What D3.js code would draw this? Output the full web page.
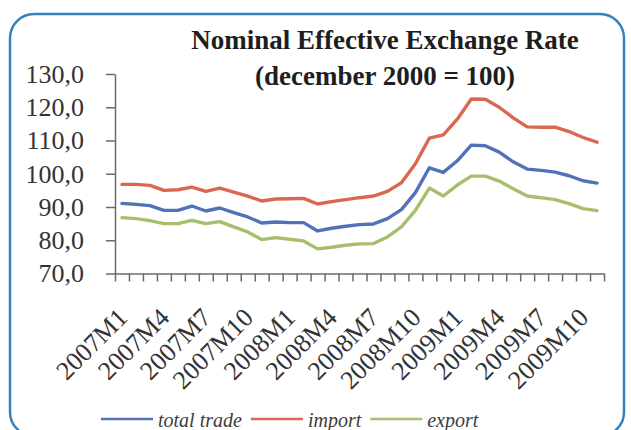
<!DOCTYPE html>
<html><head><meta charset="utf-8">
<script src="https://cdn.jsdelivr.net/npm/d3@7"></script>
<style>html,body{margin:0;padding:0;background:#fff;} svg{display:block}</style>
</head><body><svg id="c" width="631" height="430"></svg>
<script>
const categories = ["2007M1","2007M2","2007M3","2007M4","2007M5","2007M6","2007M7","2007M8","2007M9","2007M10","2007M11","2007M12",
"2008M1","2008M2","2008M3","2008M4","2008M5","2008M6","2008M7","2008M8","2008M9","2008M10","2008M11","2008M12",
"2009M1","2009M2","2009M3","2009M4","2009M5","2009M6","2009M7","2009M8","2009M9","2009M10","2009M11"];
const shownLabels = ["2007M1","2007M4","2007M7","2007M10","2008M1","2008M4","2008M7","2008M10","2009M1","2009M4","2009M7","2009M10"];
const totalTrade = [91.1,90.8,90.4,89.0,89.0,90.3,88.8,89.7,88.3,87.0,85.2,85.5,85.3,85.3,82.8,83.6,84.2,84.7,84.9,86.5,89.2,94.3,101.8,100.4,103.9,108.6,108.4,106.5,103.6,101.4,101.0,100.5,99.4,97.9,97.2];
const importIdx = [96.8,96.8,96.5,95.0,95.2,96.0,94.7,95.7,94.5,93.3,91.8,92.4,92.5,92.6,90.9,91.6,92.2,92.8,93.3,94.7,97.3,103.0,110.7,111.7,116.4,122.5,122.4,120.0,116.8,114.1,114.0,114.0,112.7,110.9,109.5];
const exportIdx = [86.8,86.5,85.9,85.0,85.0,86.0,85.0,85.6,84.0,82.5,80.2,80.8,80.3,79.8,77.4,77.9,78.5,78.9,79.0,81.0,84.0,89.0,95.7,93.3,96.6,99.3,99.3,97.8,95.5,93.3,92.8,92.2,91.0,89.5,88.9];
const yTicks = [70,80,90,100,110,120,130];
const seriesNames = ["total trade","import","export"];
const seriesValues = [totalTrade, importIdx, exportIdx];
const seriesColors = ["#5272b8","#da6750","#a7bf6c"];
const titleLines = ["Nominal Effective Exchange Rate","(december 2000 = 100)"];

const svg = d3.select("#c");
const serif = "'Liberation Serif','Times New Roman',serif";

// frame
svg.append("rect").attr("x",10).attr("y",14).attr("width",614).attr("height",422)
  .attr("rx",24).attr("ry",24).attr("fill","#fff").attr("stroke","#3282bf").attr("stroke-width",2.5);

// title
svg.selectAll("text.title").data(titleLines).join("text").attr("class","title")
  .attr("x",385).attr("y",(d,i)=> i===0 ? 48.5 : 84.5)
  .attr("text-anchor","middle").attr("font-family",serif).attr("font-weight","bold")
  .attr("font-size",27).attr("fill","#1e1e1e").text(d=>d);

const x = d3.scaleBand().domain(categories).range([115,604]).padding(0);
const bw = x.bandwidth();
const xb = d3.scaleLinear().domain([0,categories.length]).range([115,604]);
const y = d3.scaleLinear().domain([70,130]).range([273.5,74]);

const fmt = v => d3.format(".1f")(v).replace(".",",");

// y axis
const ya = svg.append("g").attr("transform","translate(115,0)")
  .call(d3.axisLeft(y).tickValues(yTicks).tickSize(9).tickSizeOuter(0).tickPadding(22).tickFormat(fmt));
ya.select(".domain").attr("stroke","#6a6a6a").attr("stroke-width",1.5);
ya.selectAll(".tick line").attr("stroke","#6a6a6a").attr("stroke-width",1.5);
ya.selectAll(".tick text").attr("font-family",serif).attr("font-size",26).attr("fill","#333");

// x axis (ticks at category boundaries)
const xa = svg.append("g").attr("transform","translate(0,273.5)")
  .call(d3.axisBottom(xb).tickValues(d3.range(categories.length+1)).tickSize(8).tickSizeOuter(0).tickFormat(""));
xa.select(".domain").attr("stroke","#6a6a6a").attr("stroke-width",1.5);
xa.selectAll(".tick line").attr("stroke","#6a6a6a").attr("stroke-width",1.5);

svg.append("g").selectAll("text").data(shownLabels).join("text")
  .attr("transform",d=>`translate(${x(d)+bw/2+7},319) rotate(-45)`)
  .attr("text-anchor","end").attr("font-family",serif).attr("font-size",26).attr("fill","#333")
  .text(d=>d);

// lines
const line = d3.line().x((d,i)=>x(categories[i])+bw/2).y(d=>y(d));
svg.append("g").selectAll("path").data(seriesValues).join("path")
  .attr("d",d=>line(d)).attr("fill","none")
  .attr("stroke",(d,i)=>seriesColors[i]).attr("stroke-width",3.4)
  .attr("stroke-linejoin","round").attr("stroke-linecap","round");

// legend
const lg = svg.append("g");
let lx = 101;
seriesNames.forEach((name,i)=>{
  lg.append("line").attr("x1",lx).attr("x2",lx+52).attr("y1",419).attr("y2",419)
    .attr("stroke",seriesColors[i]).attr("stroke-width",2.5);
  const t = lg.append("text").attr("x",lx+57).attr("y",427).attr("font-family",serif)
    .attr("font-style","italic").attr("font-size",20).attr("fill","#3c3c3c").text(name);
  lx = lx + 57 + t.node().getComputedTextLength() + 9;
});
</script></body></html>
